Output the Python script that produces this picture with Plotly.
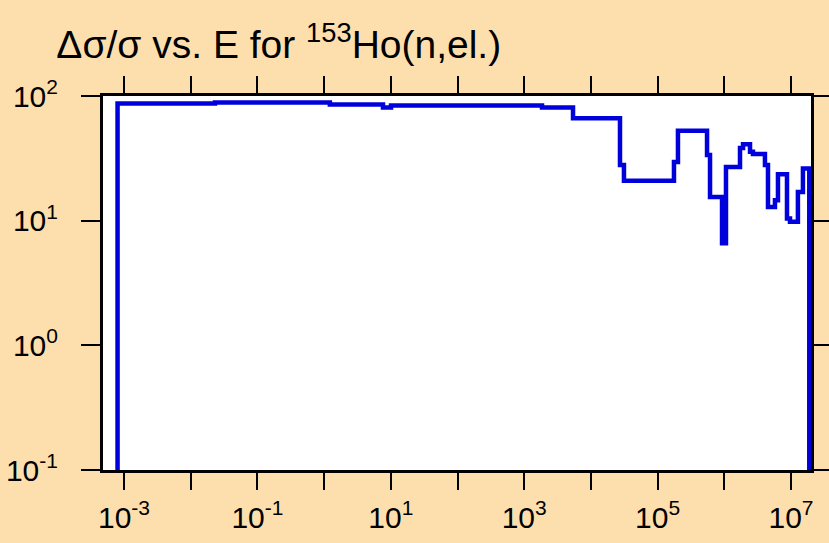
import plotly.graph_objects as go

# Relative uncertainty of the elastic cross section (step histogram)
energy_ev = [8.0e-4, 8.0e-4, 0.0231, 1.22, 7.64, 10.07, 1849, 5395, 2.73e4, 3.13e4,
             1.76e5, 2.02e5, 5.51e5, 6.11e5, 9.25e5, 1.06e6, 1.72e6, 1.91e6, 2.43e6,
             2.69e6, 4.07e6, 4.52e6, 5.75e6, 6.38e6, 8.71e6, 9.66e6, 1.27e7, 1.51e7,
             1.88e7, 1.88e7]
rel_unc = [1e-3, 87.1, 88.7, 85.5, 80.9, 83.9, 81.0, 66.2, 27.9, 20.9,
           29.6, 52.6, 33.6, 15.5, 6.6, 27.0, 38.2, 41.1, 35.7,
           34.2, 27.9, 12.9, 14.6, 23.6, 10.4, 9.8, 17.0, 26.2,
           26.2, 1e-3]

x_tickvals = [10.0 ** k for k in range(-3, 8)]
x_ticktext = [f"10<sup>{k}</sup>" if k % 2 else "" for k in range(-3, 8)]
y_tickvals = [0.1, 1, 10, 100]
y_ticktext = ["10<sup>-1</sup>", "10<sup>0</sup>", "10<sup>1</sup>", "10<sup>2</sup>"]

fig = go.Figure(
    go.Scatter(
        x=energy_ev,
        y=rel_unc,
        mode="lines",
        line=dict(color="#0000dd", width=4.5, shape="hv"),
        showlegend=False,
    )
)

fig.update_layout(
    width=829,
    height=543,
    margin=dict(l=103, r=18, t=96, b=73),
    paper_bgcolor="#fddfae",
    plot_bgcolor="white",
    font=dict(family="Liberation Sans, Arial, sans-serif", color="black", size=30),
    title=dict(
        text="Δσ/σ vs. E for <sup>153</sup>Ho(n,el.)",
        x=0.068,
        xanchor="left",
        y=0.918,
        yanchor="middle",
        font=dict(size=39),
    ),
)

fig.update_xaxes(
    type="log",
    range=[-3.315, 7.3],
    tickvals=x_tickvals,
    ticktext=x_ticktext,
    ticks="outside",
    ticklen=17,
    tickwidth=2,
    tickcolor="black",
    ticklabelstandoff=2,
    showline=True,
    linewidth=3,
    linecolor="black",
    mirror="allticks",
    showgrid=False,
    zeroline=False,
    automargin=False,
)
fig.update_yaxes(
    type="log",
    range=[-1, 2],
    tickvals=y_tickvals,
    ticktext=y_ticktext,
    ticks="outside",
    ticklen=19,
    tickwidth=2,
    tickcolor="black",
    ticklabelstandoff=17,
    showline=True,
    linewidth=3,
    linecolor="black",
    mirror="allticks",
    showgrid=False,
    zeroline=False,
    automargin=False,
)

# drop the page's default body margin so the figure fills the window
fig.write_html(
    "out.html",
    config={"displayModeBar": False},
    post_script="document.body.style.margin='0';"
    "document.body.style.background='#fddfae';",
)
